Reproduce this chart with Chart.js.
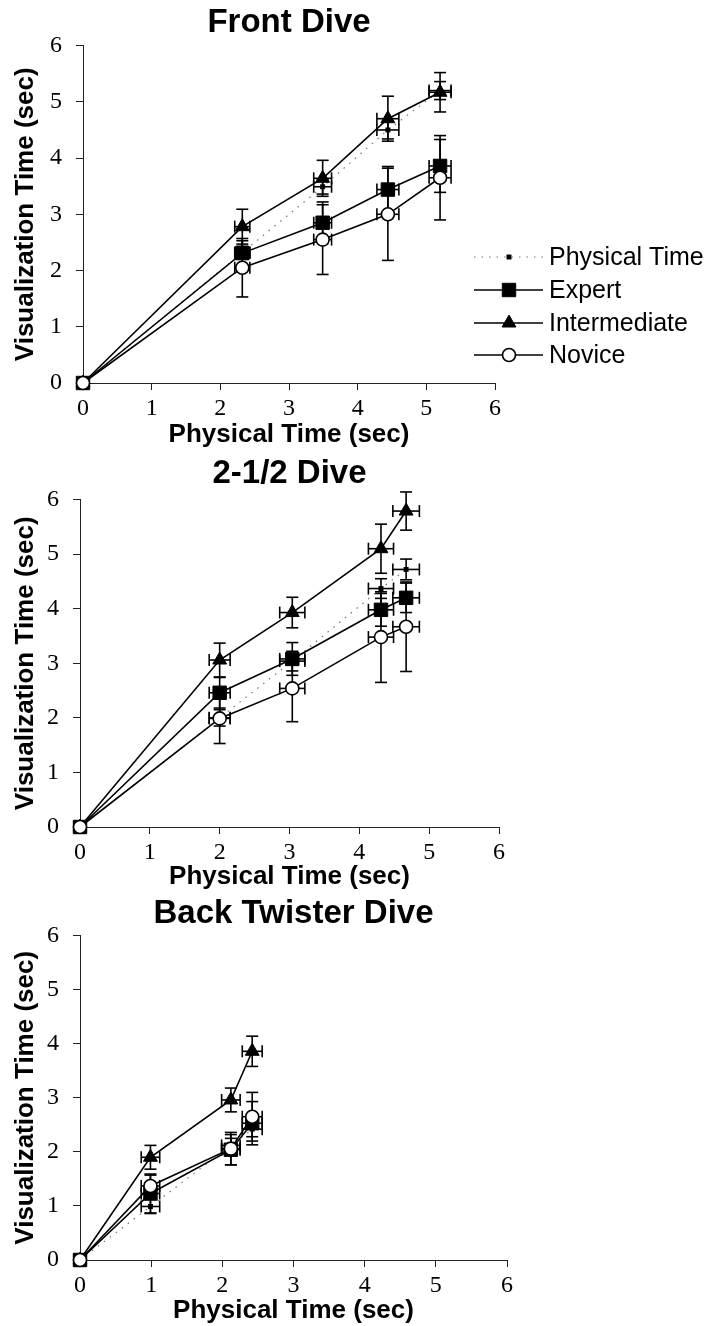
<!DOCTYPE html>
<html>
<head>
<meta charset="utf-8">
<title>Visualization Time vs Physical Time</title>
<script src="https://cdn.jsdelivr.net/npm/chart.js@4.4.1/dist/chart.umd.min.js"></script>
<style>
    html, body { margin: 0; padding: 0; background: #fff; }
    body { width: 709px; height: 1326px; position: relative; overflow: hidden; }
    canvas { position: absolute; left: 0; }
</style>
</head>
<body>
<canvas id="front" width="709" height="450" style="top:0px"></canvas>
<canvas id="twohalf" width="709" height="442" style="top:450px"></canvas>
<canvas id="back" width="709" height="436" style="top:890px"></canvas>
<script>
// values (seconds)
var axisTicks = [0, 1, 2, 3, 4, 5, 6];
var seriesNames = ["Physical Time", "Expert", "Intermediate", "Novice"];

// Front Dive
var frontX = [0, 2.32, 3.49, 4.44, 5.20];
var frontXErr = [0, 0.11, 0.13, 0.16, 0.16];
var frontPhysical = [0, 2.32, 3.49, 4.50, 5.20];
var frontExpert = [0, 2.31, 2.85, 3.44, 3.86];
var frontExpertErr = [0, 0.22, 0.37, 0.41, 0.47];
var frontIntermediate = [0, 2.78, 3.64, 4.70, 5.17];
var frontIntermediateErr = [0, 0.31, 0.32, 0.40, 0.35];
var frontNovice = [0, 2.05, 2.55, 3.00, 3.65];
var frontNoviceErr = [0, 0.52, 0.62, 0.82, 0.75];

// 2-1/2 Dive
var twoHalfX = [0, 2.00, 3.04, 4.31, 4.67];
var twoHalfXErr = [0, 0.15, 0.18, 0.18, 0.19];
var twoHalfPhysical = [0, 2.00, 3.04, 4.37, 4.72];
var twoHalfExpert = [0, 2.46, 3.08, 3.98, 4.20];
var twoHalfExpertErr = [0, 0.28, 0.30, 0.30, 0.27];
var twoHalfIntermediate = [0, 3.06, 3.93, 5.10, 5.79];
var twoHalfIntermediateErr = [0, 0.31, 0.28, 0.45, 0.35];
var twoHalfNovice = [0, 1.99, 2.54, 3.48, 3.67];
var twoHalfNoviceErr = [0, 0.46, 0.61, 0.83, 0.82];

// Back Twister Dive
var backX = [0, 0.99, 2.12, 2.42];
var backXErr = [0, 0.13, 0.13, 0.14];
var backPhysical = [0, 0.99, 2.12, 2.42];
var backExpert = [0, 1.23, 2.04, 2.53];
var backExpertErr = [0, 0.36, 0.28, 0.40];
var backIntermediate = [0, 1.90, 2.96, 3.86];
var backIntermediateErr = [0, 0.22, 0.22, 0.28];
var backNovice = [0, 1.37, 2.06, 2.65];
var backNoviceErr = [0, 0.20, 0.30, 0.45];

!function () {
    "use strict";

    function points(xs, ys, xErr, yErr) {
        return xs.map(function (x, i) {
            return {x: x, y: ys[i], xErr: xErr[i], yErr: yErr[i]};
        });
    }

    function line(ctx, x1, y1, x2, y2) {
        ctx.beginPath();
        ctx.moveTo(x1, y1);
        ctx.lineTo(x2, y2);
        ctx.stroke();
    }

    // vertical and horizontal error bars, drawn under the markers
    var errorBars = {
        id: 'errorBars',
        beforeDatasetsDraw: function (chart) {
            var ctx = chart.ctx, xs = chart.scales.x, ys = chart.scales.y, cap = 6;
            ctx.save();
            ctx.strokeStyle = '#000';
            ctx.lineWidth = 1.6;
            chart.data.datasets.forEach(function (ds) {
                ds.data.forEach(function (p) {
                    var px = xs.getPixelForValue(p.x), py = ys.getPixelForValue(p.y);
                    if (p.yErr) {
                        var t = ys.getPixelForValue(p.y + p.yErr), b = ys.getPixelForValue(p.y - p.yErr);
                        line(ctx, px, t, px, b);
                        line(ctx, px - cap, t, px + cap, t);
                        line(ctx, px - cap, b, px + cap, b);
                    }
                    if (p.xErr) {
                        var l = xs.getPixelForValue(p.x - p.xErr), r = xs.getPixelForValue(p.x + p.xErr);
                        line(ctx, l, py, r, py);
                        line(ctx, l, py - cap, l, py + cap);
                        line(ctx, r, py - cap, r, py + cap);
                    }
                });
            });
            ctx.restore();
        }
    };

    // legend with line + marker samples, only on the first panel
    var sideLegend = {
        id: 'sideLegend',
        afterDraw: function (chart) {
            var ctx = chart.ctx, rows = [257, 290, 323, 355];
            ctx.save();
            chart.data.datasets.forEach(function (ds, i) {
                var y = rows[i];
                ctx.strokeStyle = ds.borderColor;
                ctx.lineWidth = ds.borderWidth;
                ctx.setLineDash(ds.borderDash || []);
                line(ctx, 474, y, 543, y);
                ctx.setLineDash([]);
                ctx.fillStyle = ds.pointBackgroundColor;
                ctx.strokeStyle = ds.pointBorderColor;
                ctx.lineWidth = ds.pointBorderWidth;
                Chart.helpers.drawPoint(ctx, {
                    pointStyle: ds.pointStyle, radius: ds.pointRadius,
                    rotation: 0, borderWidth: ds.pointBorderWidth
                }, 509, y);
                ctx.fillStyle = '#000';
                ctx.font = '25px "Liberation Sans", Arial, sans-serif';
                ctx.textBaseline = 'middle';
                ctx.textAlign = 'left';
                ctx.fillText(ds.label, 549, y + 1);
            });
            ctx.restore();
        }
    };

    function datasets(xs, xErr, phys, ex, exErr, im, imErr, nv, nvErr) {
        return [{
            label: seriesNames[0], data: points(xs, phys, xErr, xErr), order: 3, clip: false,
            borderColor: '#777', borderWidth: 1.2, borderDash: [1.5, 6],
            pointStyle: 'rect', pointRadius: 3.5, pointBackgroundColor: '#000',
            pointBorderColor: '#000', pointBorderWidth: 0
        }, {
            label: seriesNames[1], data: points(xs, ex, xErr, exErr), order: 2, clip: false,
            borderColor: '#000', borderWidth: 1.6,
            pointStyle: 'rect', pointRadius: 9.5, pointBackgroundColor: '#000',
            pointBorderColor: '#000', pointBorderWidth: 1
        }, {
            label: seriesNames[2], data: points(xs, im, xErr, imErr), order: 1, clip: false,
            borderColor: '#000', borderWidth: 1.6,
            pointStyle: 'triangle', pointRadius: 8, pointBackgroundColor: '#000',
            pointBorderColor: '#000', pointBorderWidth: 1
        }, {
            label: seriesNames[3], data: points(xs, nv, xErr, nvErr), order: 0, clip: false,
            borderColor: '#000', borderWidth: 1.6,
            pointStyle: 'circle', pointRadius: 6.5, pointBackgroundColor: '#fff',
            pointBorderColor: '#000', pointBorderWidth: 1.6
        }];
    }

    function panel(id, title, data, geo, plugins) {
        var serif = {family: '"Liberation Serif", "Times New Roman", serif', size: 24};
        var bold = {family: '"Liberation Sans", Arial, sans-serif', size: 26, weight: 'bold'};
        new Chart(document.getElementById(id).getContext('2d'), {
            type: 'scatter',
            data: {datasets: data},
            plugins: plugins,
            options: {
                responsive: false, animation: false, devicePixelRatio: 1,
                showLine: true,
                layout: {padding: {left: 0, top: 0, bottom: 0, right: geo.right}},
                plugins: {
                    legend: {display: false},
                    tooltip: {enabled: false},
                    title: {
                        display: true, text: title, fullSize: false, color: '#000',
                        font: {family: '"Liberation Sans", Arial, sans-serif', size: 33, weight: 'bold'},
                        padding: geo.titlePad
                    }
                },
                scales: {
                    x: {
                        type: 'linear', min: 0, max: 6,
                        afterFit: function (s) { s.height = geo.xHeight; },
                        afterBuildTicks: function (s) { s.ticks = axisTicks.map(function (v) { return {value: v}; }); },
                        grid: {drawOnChartArea: false, drawTicks: true, tickLength: 7, tickColor: '#222', tickWidth: 1},
                        border: {display: true, color: '#222', width: 1},
                        ticks: {color: '#000', font: serif, padding: 4, maxRotation: 0},
                        title: {display: true, text: 'Physical Time (sec)', color: '#000', font: bold, padding: {top: 0, bottom: 0}}
                    },
                    y: {
                        type: 'linear', min: 0, max: 6,
                        afterFit: function (s) { s.width = geo.left; },
                        afterBuildTicks: function (s) { s.ticks = axisTicks.map(function (v) { return {value: v}; }); },
                        grid: {drawOnChartArea: false, drawTicks: true, tickLength: 7, tickColor: '#222', tickWidth: 1},
                        border: {display: true, color: '#222', width: 1},
                        ticks: {color: '#000', font: serif, padding: 14},
                        title: {display: true, text: 'Visualization Time (sec)', color: '#000', font: bold, padding: {top: 10, bottom: 0}}
                    }
                }
            }
        });
    }

    panel('front', 'Front Dive',
        datasets(frontX, frontXErr, frontPhysical, frontExpert, frontExpertErr,
            frontIntermediate, frontIntermediateErr, frontNovice, frontNoviceErr),
        {left: 83, right: 214, xHeight: 67, titlePad: {top: 3, bottom: 3}},
        [errorBars, sideLegend]);

    panel('twohalf', '2-1/2 Dive',
        datasets(twoHalfX, twoHalfXErr, twoHalfPhysical, twoHalfExpert, twoHalfExpertErr,
            twoHalfIntermediate, twoHalfIntermediateErr, twoHalfNovice, twoHalfNoviceErr),
        {left: 80, right: 210, xHeight: 65, titlePad: {top: 4, bottom: 6}},
        [errorBars]);

    panel('back', 'Back Twister Dive',
        datasets(backX, backXErr, backPhysical, backExpert, backExpertErr,
            backIntermediate, backIntermediateErr, backNovice, backNoviceErr),
        {left: 80, right: 202, xHeight: 66, titlePad: {top: 4, bottom: 2}},
        [errorBars]);
}();
</script>
</body>
</html>
